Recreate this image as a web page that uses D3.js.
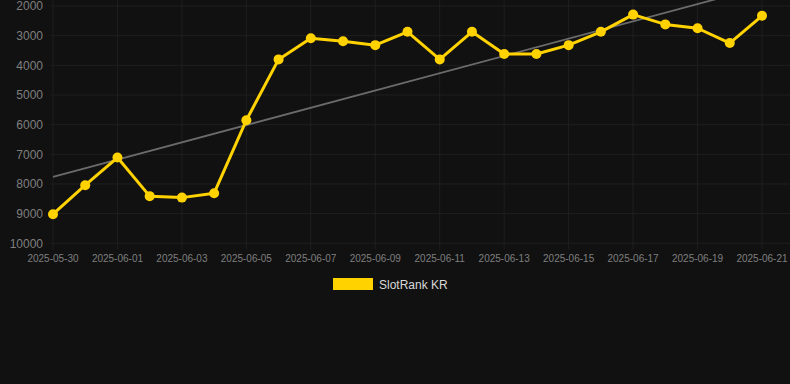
<!DOCTYPE html>
<html><head><meta charset="utf-8">
<script src="https://cdn.jsdelivr.net/npm/d3@7"></script>
<style>
html,body{margin:0;padding:0;background:#111111;}
svg{display:block;}
</style></head>
<body>
<svg id="c" width="790" height="384"></svg>
<script>
const dates = ["2025-05-30","2025-05-31","2025-06-01","2025-06-02","2025-06-03","2025-06-04","2025-06-05","2025-06-06","2025-06-07","2025-06-08","2025-06-09","2025-06-10","2025-06-11","2025-06-12","2025-06-13","2025-06-14","2025-06-15","2025-06-16","2025-06-17","2025-06-18","2025-06-19","2025-06-20","2025-06-21"];
const ranks = [9020,8040,7110,8410,8460,8310,5850,3800,3090,3190,3320,2870,3800,2870,3620,3620,3320,2870,2290,2620,2750,3250,2330];
const yTicks = [2000,3000,4000,5000,6000,7000,8000,9000,10000];
const xTickLabels = ["2025-05-30","2025-06-01","2025-06-03","2025-06-05","2025-06-07","2025-06-09","2025-06-11","2025-06-13","2025-06-15","2025-06-17","2025-06-19","2025-06-21"];
const seriesName = "SlotRank KR";

const parse = d3.utcParse("%Y-%m-%d");
const svg = d3.select("#c");
const pL = 53, pR = 762, pT = 6, pB = 243.3;
const x = d3.scaleUtc().domain([parse(dates[0]), parse(dates[dates.length-1])]).range([pL, pR]);
const y = d3.scaleLinear().domain([2000, 10000]).range([pT, pB]);
const grid = "#1f1f1f", textCol = "#7f7f7f", yellow = "#FFD200";

// horizontal grid
svg.append("g").selectAll("line").data(yTicks).join("line")
  .attr("x1", pL - 3).attr("x2", 790)
  .attr("y1", d => y(d)).attr("y2", d => y(d))
  .attr("stroke", grid).attr("stroke-width", 1);
// vertical grid
svg.append("g").selectAll("line").data(xTickLabels).join("line")
  .attr("x1", d => x(parse(d))).attr("x2", d => x(parse(d)))
  .attr("y1", 0).attr("y2", pB + 6)
  .attr("stroke", grid).attr("stroke-width", 1);

// y labels
svg.append("g").selectAll("text").data(yTicks).join("text")
  .attr("x", 43).attr("y", d => y(d)).attr("dy", "0.35em")
  .attr("text-anchor", "end").attr("fill", textCol)
  .attr("font-family", "Liberation Sans, Arial, sans-serif").attr("font-size", 12)
  .text(d => d);
// x labels
svg.append("g").selectAll("text").data(xTickLabels).join("text")
  .attr("x", d => x(parse(d))).attr("y", 262)
  .attr("text-anchor", "middle").attr("fill", textCol)
  .attr("font-family", "Liberation Sans, Arial, sans-serif").attr("font-size", 10)
  .text(d => d);

// trend line (least squares)
const n = ranks.length;
const xs = d3.range(n);
const mx = d3.mean(xs), my = d3.mean(ranks);
const slope = d3.sum(xs, i => (i-mx)*(ranks[i]-my)) / d3.sum(xs, i => (i-mx)*(i-mx));
const icpt = my - slope*mx;
svg.append("line")
  .attr("x1", x(parse(dates[0]))).attr("y1", y(icpt))
  .attr("x2", x(parse(dates[n-1]))).attr("y2", y(icpt + slope*(n-1)))
  .attr("stroke", "#6b6b6b").attr("stroke-width", 1.8);

// series line
const pts = dates.map((d,i) => [x(parse(d)), y(ranks[i])]);
svg.append("path").attr("d", d3.line()(pts))
  .attr("fill", "none").attr("stroke", yellow).attr("stroke-width", 3)
  .attr("stroke-linejoin", "round");
svg.append("g").selectAll("circle").data(pts).join("circle")
  .attr("cx", d => d[0]).attr("cy", d => d[1]).attr("r", 5)
  .attr("fill", yellow);

// legend
svg.append("rect").attr("x", 333).attr("y", 278).attr("width", 40).attr("height", 12).attr("fill", yellow);
svg.append("text").attr("x", 379).attr("y", 288.5)
  .attr("fill", "#d8d8d8").attr("font-family", "Liberation Sans, Arial, sans-serif").attr("font-size", 12)
  .text(seriesName);
</script>
</body></html>
